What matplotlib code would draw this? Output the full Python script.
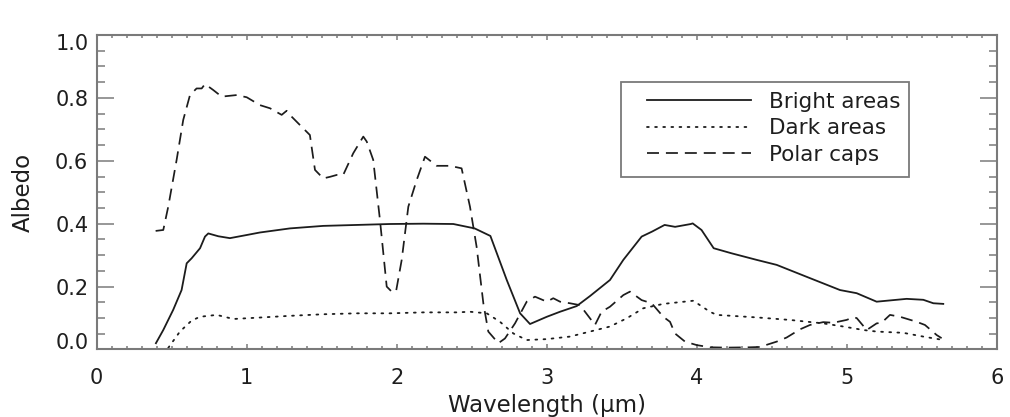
import matplotlib
matplotlib.use("Agg")
from matplotlib import pyplot as plt
from matplotlib.patches import Rectangle
from matplotlib.transforms import ScaledTranslation
from matplotlib.ticker import MultipleLocator
import numpy as np

# albedo spectra
bright_wl = [0.395, 0.444, 0.51, 0.566, 0.60, 0.633, 0.689, 0.722, 0.744, 0.811, 0.888,
             1.0, 1.088, 1.288, 1.51, 1.733, 1.955, 2.177, 2.377, 2.519, 2.624, 2.733,
             2.822, 2.888, 3.0, 3.088, 3.199, 3.288, 3.421, 3.51, 3.632, 3.702, 3.785,
             3.855, 3.960, 3.972, 4.031, 4.112, 4.230, 4.398, 4.532, 4.732, 4.954, 5.065,
             5.198, 5.398, 5.509, 5.576, 5.642]
bright_alb = [0.02, 0.062, 0.126, 0.189, 0.274, 0.29, 0.322, 0.359, 0.369, 0.36, 0.354,
              0.364, 0.372, 0.385, 0.393, 0.396, 0.399, 0.40, 0.399, 0.385, 0.361, 0.221,
              0.115, 0.081, 0.104, 0.12, 0.138, 0.17, 0.221, 0.285, 0.359, 0.375, 0.396,
              0.39, 0.399, 0.401, 0.38, 0.322, 0.306, 0.285, 0.269, 0.231, 0.189, 0.179,
              0.152, 0.161, 0.158, 0.147, 0.145]

dark_wl = [0.477, 0.555, 0.633, 0.689, 0.8, 0.911, 1.066, 1.288, 1.51, 1.733, 1.955,
           2.177, 2.399, 2.488, 2.6, 2.688, 2.777, 2.866, 3.0, 3.154, 3.288, 3.421,
           3.532, 3.643, 3.776, 3.976, 4.087, 4.132, 4.398, 4.62, 4.842, 4.976, 5.109,
           5.198, 5.376, 5.509, 5.62]
dark_alb = [0.005, 0.057, 0.092, 0.104, 0.110, 0.097, 0.101, 0.107, 0.112, 0.115, 0.115,
            0.118, 0.118, 0.12, 0.115, 0.088, 0.051, 0.03, 0.033, 0.041, 0.057, 0.073,
            0.099, 0.131, 0.145, 0.155, 0.12, 0.11, 0.102, 0.094, 0.083, 0.073, 0.062,
            0.057, 0.053, 0.041, 0.032]

polar_wl = [0.393, 0.444, 0.477, 0.533, 0.577, 0.622, 0.666, 0.70, 0.722, 0.777, 0.833,
            0.933, 1.0, 1.088, 1.155, 1.233, 1.266, 1.30, 1.377, 1.421, 1.455, 1.51,
            1.555, 1.60, 1.643, 1.71, 1.777, 1.80, 1.843, 1.888, 1.933, 1.966, 1.995,
            2.033, 2.077, 2.133, 2.188, 2.266, 2.355, 2.432, 2.488, 2.532, 2.577, 2.61,
            2.677, 2.721, 2.788, 2.866, 2.921, 3.0, 3.043, 3.088, 3.154, 3.221, 3.288,
            3.321, 3.365, 3.421, 3.51, 3.554, 3.632, 3.699, 3.776, 3.821, 3.854, 3.921,
            3.999, 4.087, 4.199, 4.354, 4.42, 4.532, 4.598, 4.687, 4.754, 4.842, 4.909,
            4.998, 5.042, 5.065, 5.132, 5.198, 5.231, 5.287, 5.354, 5.465, 5.52, 5.598,
            5.631]
polar_alb = [0.377, 0.38, 0.454, 0.603, 0.73, 0.809, 0.83, 0.83, 0.844, 0.825, 0.804,
             0.809, 0.802, 0.777, 0.767, 0.746, 0.759, 0.74, 0.703, 0.682, 0.571, 0.544,
             0.549, 0.555, 0.555, 0.624, 0.677, 0.661, 0.603, 0.412, 0.20, 0.184, 0.184,
             0.285, 0.454, 0.539, 0.613, 0.584, 0.584, 0.576, 0.454, 0.327, 0.147, 0.057,
             0.02, 0.035, 0.083, 0.152, 0.168, 0.152, 0.163, 0.152, 0.147, 0.141, 0.099,
             0.078, 0.12, 0.136, 0.173, 0.184, 0.157, 0.147, 0.104, 0.088, 0.051, 0.025,
             0.014, 0.007, 0.006, 0.007, 0.008, 0.025, 0.038, 0.064, 0.078, 0.087, 0.085,
             0.094, 0.102, 0.10, 0.062, 0.083, 0.085, 0.11, 0.104, 0.088, 0.078, 0.046,
             0.036]

plt.rcParams['font.family'] = ['DejaVu Sans']
line_col = '#1c1c1c'
axis_col = '#7a7a7a'
text_col = '#1e1e1e'

fig = plt.figure(figsize=(10.10, 4.17), dpi=100)
ax = fig.add_axes([0.0957, 0.1619, 0.8914, 0.7542])

ax.plot(bright_wl, bright_alb, color=line_col, lw=1.3, label='Bright areas')
ax.plot(dark_wl, dark_alb, color=line_col, lw=1.3, ls=(0, (1, 3.5)),
        dash_capstyle='round', label='Dark areas')
ax.plot(polar_wl, polar_alb, color=line_col, lw=1.25, ls=(0, (6.9, 4)), label='Polar caps')

ax.set_xlim(0, 6)
ax.set_ylim(0, 1)
ax.xaxis.set_major_locator(MultipleLocator(1))
ax.xaxis.set_minor_locator(MultipleLocator(0.1))
ax.yaxis.set_major_locator(MultipleLocator(0.2))
ax.yaxis.set_minor_locator(MultipleLocator(0.05))
ax.xaxis.set_major_formatter(lambda v, p: '%d' % v)
ax.yaxis.set_major_formatter(lambda v, p: '%.1f' % v)

for s in ax.spines.values():
    s.set_color(axis_col)
    s.set_linewidth(1.5)

ax.tick_params(axis='both', which='both', direction='in', colors=axis_col,
               labelcolor=text_col, labelsize=15, width=1.1)
ax.tick_params(axis='x', which='major', length=3.6, pad=13.5, top=True)
ax.tick_params(axis='x', which='minor', length=2.2, top=True)
ax.tick_params(axis='y', which='major', length=12.2, pad=6, right=True)
ax.tick_params(axis='y', which='minor', length=5.8, right=True)

# the end labels of the y axis sit inside the axis range
for lab in ax.get_yticklabels():
    if lab.get_text() == '0.0':
        lab.set_transform(lab.get_transform() + ScaledTranslation(0, 8 / 100, fig.dpi_scale_trans))
    elif lab.get_text() == '1.0':
        lab.set_transform(lab.get_transform() + ScaledTranslation(0, -7 / 100, fig.dpi_scale_trans))

ax.set_xlabel('Wavelength (\u03bcm)', fontsize=16.5, color=text_col, labelpad=4.5)
ax.set_ylabel('Albedo', fontsize=16.5, color=text_col, labelpad=14.5)

leg = ax.legend(loc='center left', bbox_to_anchor=(647 / 1010, 1 - 128.3 / 417),
                bbox_transform=fig.transFigure, frameon=False, fontsize=15.5,
                handlelength=4.83, handletextpad=0.84, labelspacing=0.3,
                borderpad=0, borderaxespad=0)
for t in leg.get_texts():
    t.set_color(text_col)

fig.patches.append(Rectangle((621 / 1010, 1 - 177 / 417), 288 / 1010, 95 / 417,
                             transform=fig.transFigure, fill=False,
                             edgecolor=axis_col, lw=1.3))

fig.savefig('out.png', dpi=100)
